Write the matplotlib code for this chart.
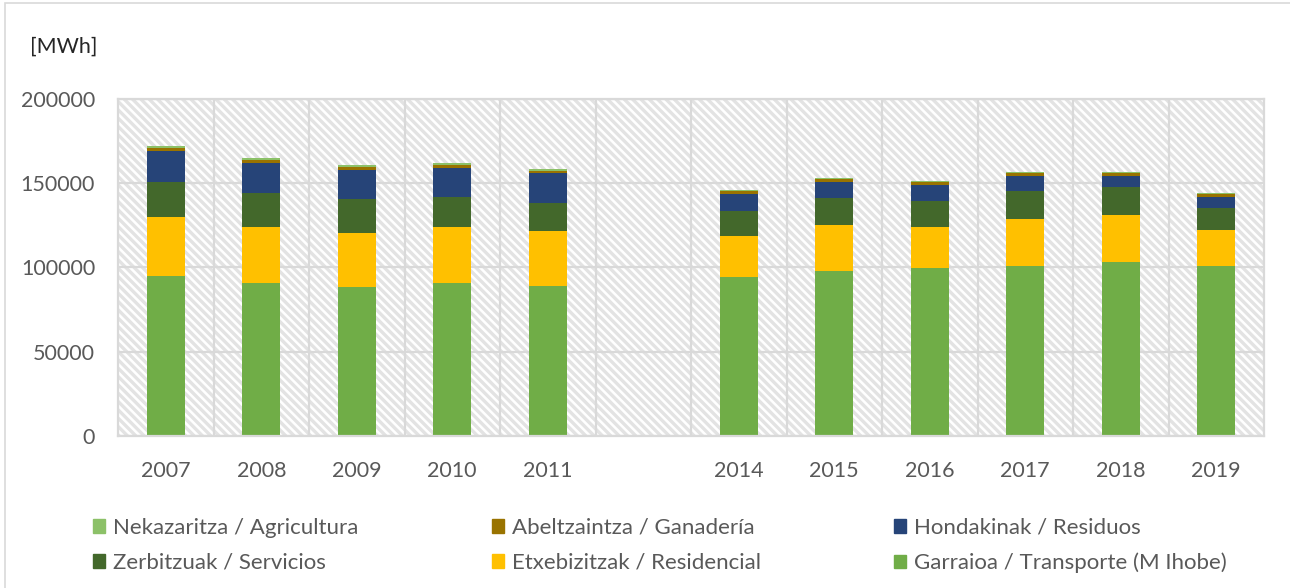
import numpy as np
import matplotlib
matplotlib.use('Agg')
import matplotlib.pyplot as plt
from matplotlib.patches import Rectangle, Patch

nan = np.nan
years = ['2007', '2008', '2009', '2010', '2011', '', '2014', '2015', '2016', '2017', '2018', '2019']

# MWh per sector, stacked bottom -> top
transporte = [95000, 91000, 88600, 91000, 88850, nan, 94400, 97900, 99500, 100900, 103450, 100900]
residencial = [34800, 33200, 31700, 32900, 32650, nan, 24300, 27100, 24500, 27750, 27900, 21400]
servicios = [20800, 19800, 20200, 17800, 16800, nan, 14600, 16000, 15200, 16600, 16450, 12850]
residuos = [18400, 18000, 17550, 17550, 17800, nan, 10450, 9700, 9500, 9100, 6500, 6850]
ganaderia = [2000, 1950, 1600, 1750, 1350, nan, 1600, 1750, 1950, 1750, 1750, 1750]
agricultura = [1200, 1000, 1000, 850, 1000, nan, 600, 400, 400, 600, 600, 400]

series = [
    ('Garraioa / Transporte (M Ihobe)', transporte, '#70AD47'),
    ('Etxebizitzak / Residencial', residencial, '#FFC000'),
    ('Zerbitzuak / Servicios', servicios, '#43682B'),
    ('Hondakinak / Residuos', residuos, '#264478'),
    ('Abeltzaintza / Ganadería', ganaderia, '#997300'),
    ('Nekazaritza / Agricultura', agricultura, '#8CC168'),
]

txt = '#595959'
grid_c = '#D9D9D9'
plt.rcParams['font.family'] = ['Lato', 'DejaVu Sans']
plt.rcParams['hatch.color'] = '#E3E3E3'
plt.rcParams['hatch.linewidth'] = 2.4

fig = plt.figure(figsize=(12.9, 5.88), dpi=100)
ax = fig.add_axes([118/1290, 152/588, (1264-118)/1290, (436-99)/588])

# chart area border
fig.patches.append(Rectangle((5/1290, -0.1), 1.2, 0.1 + 1 - 3/588, transform=fig.transFigure,
                             fill=False, edgecolor=grid_c, linewidth=1.2))

# hatched plot area
ax.set_facecolor('white')
ax.add_patch(Rectangle((0, 0), 1, 1, transform=ax.transAxes, facecolor='white',
                       edgecolor='#E3E3E3', hatch='\\\\\\\\', linewidth=0, zorder=0))

x = np.arange(len(years))
bottom = np.zeros(len(years))
handles = {}
for name, vals, col in series:
    v = np.array(vals, dtype=float)
    ax.bar(x, v, 0.4, bottom=bottom, color=col, zorder=2, linewidth=0)
    bottom = bottom + v
    handles[name] = Patch(color=col)

ax.set_xlim(-0.5, len(years) - 0.5)
ax.set_ylim(0, 200000)
ax.set_yticks(np.arange(0, 200001, 50000))
ax.set_yticklabels([str(t) for t in range(0, 200001, 50000)])
ax.set_xticks(x)
ax.set_xticklabels(years)
ax.set_xticks(np.arange(0.5, len(years) - 1, 1), minor=True)
ax.tick_params(axis='both', which='both', length=0, colors=txt, labelsize=15.5)
ax.tick_params(axis='x', pad=18)
ax.tick_params(axis='y', pad=16.5)
ax.set_axisbelow(True)
ax.grid(axis='y', color=grid_c, linewidth=1.6)
ax.grid(axis='x', which='minor', color=grid_c, linewidth=1.6)
for s in ax.spines.values():
    s.set_color(grid_c)
    s.set_linewidth(1.6)

fig.text(30/1290, 1 - 47/588, '[MWh]', color='#262626', fontsize=15.5, va='center', ha='left')

order = ['Nekazaritza / Agricultura', 'Zerbitzuak / Servicios',
         'Abeltzaintza / Ganadería', 'Etxebizitzak / Residencial',
         'Hondakinak / Residuos', 'Garraioa / Transporte (M Ihobe)']
leg = fig.legend([handles[n] for n in order], order, ncol=3, loc='upper left',
                 bbox_to_anchor=(93/1290, 1 - 518/588), frameon=False, fontsize=16,
                 handlelength=0.55, handleheight=0.55, handletextpad=0.35,
                 columnspacing=6.0, labelspacing=0.67, borderaxespad=0, borderpad=0)
for t in leg.get_texts():
    t.set_color(txt)

fig.savefig('out.png', dpi=100)
